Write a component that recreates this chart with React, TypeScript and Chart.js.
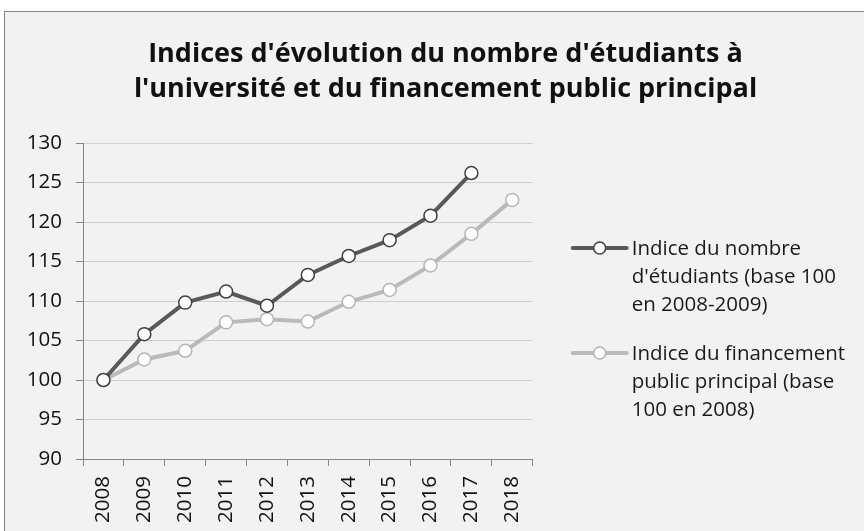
import React, { useEffect, useRef } from "react";
import { Chart, registerables } from "chart.js";

Chart.register(...registerables);

// ---- Data ----
const years = ["2008", "2009", "2010", "2011", "2012", "2013", "2014", "2015", "2016", "2017", "2018"];
const studentsIndex = [100, 105.8, 109.8, 111.2, 109.4, 113.3, 115.7, 117.7, 120.8, 126.2, null];
const fundingIndex = [100, 102.6, 103.7, 107.3, 107.7, 107.4, 109.9, 111.4, 114.5, 118.5, 122.8];
const yMin = 90;
const yMax = 130;
const yStep = 5;
const titleLines = [
  "Indices d'évolution du nombre d'étudiants à",
  "l'université et du financement public principal",
];
const studentsLegend = ["Indice du nombre", "d'étudiants (base 100", "en 2008-2009)"];
const fundingLegend = ["Indice du financement", "public principal (base", "100 en 2008)"];

const FONT = "'Open Sans', 'Noto Sans', sans-serif";

const legendPlugin = {
  id: "wrappedLegend",
  afterDraw(chart: any) {
    const { ctx, chartArea } = chart;
    const entries = [
      { lines: studentsLegend, ds: chart.data.datasets[0], top: chartArea.top + 105 },
      { lines: fundingLegend, ds: chart.data.datasets[1], top: chartArea.top + 210 },
    ];
    const x0 = chartArea.right + 40;
    const x1 = x0 + 54;
    ctx.save();
    entries.forEach((e) => {
      const y = e.top;
      ctx.beginPath();
      ctx.strokeStyle = e.ds.borderColor;
      ctx.lineWidth = e.ds.borderWidth;
      ctx.lineCap = "round";
      ctx.moveTo(x0, y);
      ctx.lineTo(x1, y);
      ctx.stroke();
      ctx.beginPath();
      ctx.arc((x0 + x1) / 2, y, 6, 0, Math.PI * 2);
      ctx.fillStyle = e.ds.pointBackgroundColor;
      ctx.fill();
      ctx.lineWidth = e.ds.pointBorderWidth;
      ctx.strokeStyle = e.ds.pointBorderColor;
      ctx.stroke();
      ctx.fillStyle = "#1a1a1a";
      ctx.font = `20.5px ${FONT}`;
      ctx.textAlign = "left";
      ctx.textBaseline = "middle";
      e.lines.forEach((l: string, i: number) => {
        ctx.fillText(l, x1 + 5, y + 1 + i * 28);
      });
    });
    ctx.restore();
  },
};

export default function App() {
  const ref = useRef<HTMLCanvasElement>(null);

  useEffect(() => {
    if (!ref.current) return;
    const chart = new Chart(ref.current, {
      type: "line",
      data: {
        labels: years,
        datasets: [
          {
            label: studentsLegend.join(" "),
            data: studentsIndex,
            borderColor: "#595959",
            borderWidth: 4,
            pointBackgroundColor: "#ffffff",
            pointBorderColor: "#404040",
            pointBorderWidth: 1.5,
            pointRadius: 6.5,
            tension: 0,
          },
          {
            label: fundingLegend.join(" "),
            data: fundingIndex,
            borderColor: "#bababa",
            borderWidth: 4,
            pointBackgroundColor: "#ffffff",
            pointBorderColor: "#b5b5b5",
            pointBorderWidth: 1.5,
            pointRadius: 6.5,
            tension: 0,
          },
        ],
      },
      options: {
        responsive: false,
        animation: false,
        layout: { padding: 0 },
        plugins: {
          legend: { display: false },
          tooltip: { enabled: false },
          title: {
            display: true,
            text: titleLines,
            color: "#111111",
            font: { family: FONT, size: 27, weight: "bold", lineHeight: 35.2 / 27 },
            padding: { top: 25, bottom: 35.6 },
          },
        },
        scales: {
          x: {
            offset: true,
            grid: {
              display: true,
              drawOnChartArea: false,
              drawTicks: true,
              tickLength: 7,
              tickColor: "#868686",
              offset: true,
            },
            border: { display: true, color: "#868686", width: 1 },
            ticks: {
              color: "#111111",
              font: { family: FONT, size: 20.5 },
              minRotation: 90,
              maxRotation: 90,
              padding: 10,
              autoSkip: false,
            },
            afterFit(scale: any) {
              scale.height = 83;
            },
          },
          y: {
            min: yMin,
            max: yMax,
            grid: {
              color: "#cfcfcf",
              lineWidth: 1,
              drawTicks: true,
              tickLength: 7,
              tickColor: "#868686",
            },
            border: { display: true, color: "#868686", width: 1 },
            ticks: {
              stepSize: yStep,
              color: "#111111",
              font: { family: FONT, size: 20.5 },
              padding: 14,
            },
            afterFit(scale: any) {
              scale.width = 78;
            },
          },
          legendSpace: {
            type: "linear",
            position: "right",
            display: true,
            grid: { display: false, drawTicks: false },
            border: { display: false },
            ticks: { display: false },
            afterFit(scale: any) {
              scale.width = 353.3;
            },
          },
        },
      },
      plugins: [legendPlugin],
    });
    return () => chart.destroy();
  }, []);

  return (
    <div
      style={{
        position: "fixed",
        left: 0,
        top: 0,
        width: 864,
        height: 531,
        overflow: "hidden",
        background: "#ffffff",
      }}
    >
      <div
        style={{
          position: "absolute",
          left: 4,
          top: 11,
          border: "1px solid #868686",
          background: "#f2f2f2",
          width: 881,
          height: 530,
        }}
      >
        <canvas ref={ref} width={881} height={530} style={{ display: "block" }} />
      </div>
    </div>
  );
}
